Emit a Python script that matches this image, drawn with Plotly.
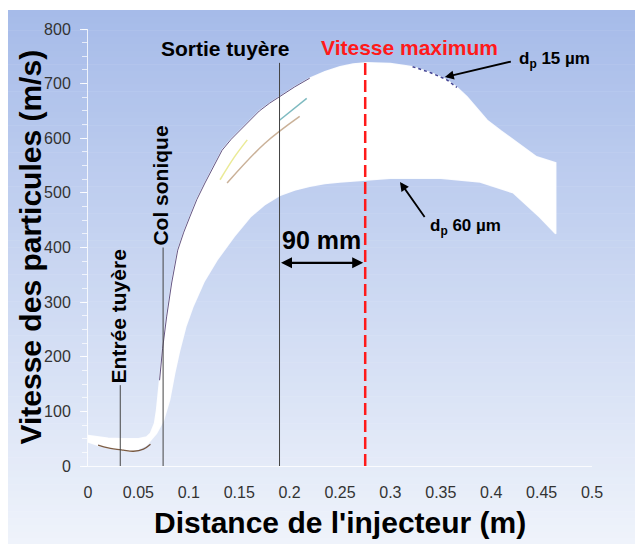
import plotly.graph_objects as go

# Upper envelope (dp 15 µm) and lower envelope (dp 60 µm)
upper_x = [0.0, 0.01, 0.02, 0.035, 0.05, 0.058, 0.062, 0.066, 0.068, 0.071, 0.074, 0.078, 0.083, 0.089,
           0.095, 0.101, 0.108, 0.116, 0.125, 0.133, 0.142, 0.151, 0.16, 0.17, 0.18, 0.19, 0.205,
           0.22, 0.235, 0.25, 0.263, 0.277, 0.3, 0.322, 0.34, 0.356, 0.366, 0.376, 0.386, 0.396,
           0.41, 0.422, 0.445, 0.464]
upper_y = [56, 53, 51, 50, 50, 53, 60, 78, 102, 157, 215, 273, 335, 395,
           428, 456, 488, 518, 550, 578, 598, 615, 633, 650, 664, 676, 694,
           710, 722, 731, 736, 738, 737, 731, 720, 707, 693, 676, 655, 633,
           613, 597, 566, 555]
lower_x = [0.0, 0.01, 0.02, 0.035, 0.045, 0.058, 0.068, 0.075, 0.081, 0.086, 0.091, 0.097, 0.104,
           0.115, 0.128, 0.145, 0.161, 0.175, 0.19, 0.205, 0.22, 0.235, 0.25, 0.275, 0.3, 0.35,
           0.389, 0.422, 0.448, 0.464]
lower_y = [44, 38, 33, 29, 27, 38, 60, 84, 121, 170, 212, 255, 291,
           337, 377, 420, 456, 478, 495, 505, 512, 517, 520, 524, 527, 527,
           520, 500, 456, 425]

# faint streaks inside the band
streak_teal_x = [0.19, 0.217]
streak_teal_y = [633, 673]
streak_brown_x = [0.138, 0.175, 0.21]
streak_brown_y = [518, 590, 640]
streak_yellow_x = [0.131, 0.145, 0.158]
streak_yellow_y = [524, 565, 597]

# bottom dark trace near the injector
bottom_x = [0.01, 0.02, 0.035, 0.045, 0.055, 0.062]
bottom_y = [38, 33, 29, 27, 31, 40]

x_tick_vals = [0, 0.05, 0.1, 0.15, 0.2, 0.25, 0.3, 0.35, 0.4, 0.45, 0.5]
x_tick_text = ["0", "0.05", "0.1", "0.15", "0.2", "0.25", "0.3", "0.35", "0.4", "0.45", "0.5"]
y_tick_vals = [0, 100, 200, 300, 400, 500, 600, 700, 800]

# reference positions
x_entree = 0.032
x_col = 0.0745
x_sortie = 0.19
x_vmax = 0.275
entree_top = 148
col_top = 400
sortie_top = 738
vmax_top = 738
arrow_y = 372

fig = go.Figure()

# background gradient via stripes (paper coordinates); page is offset 8px by body margin
W, H = 643, 544
L, R, T, B = 80, 59, 21, 86
pw, ph = W - L - R, H - T - B
top_c = (166, 187, 233)
bot_c = (240, 244, 251)
n = 80
fy0, fy1 = 2, 544
shapes = []
for i in range(n):
    a = fy0 + (fy1 - fy0) * i / n
    b = fy0 + (fy1 - fy0) * (i + 1) / n
    t = (i + 0.5) / n
    c = tuple(int(round(top_c[k] + (bot_c[k] - top_c[k]) * t)) for k in range(3))
    shapes.append(dict(type="rect", xref="paper", yref="paper", layer="below",
                       x0=(0 - L) / pw, x1=(W - L) / pw,
                       y0=(H - B - b - 0.5) / ph, y1=(H - B - a) / ph,
                       fillcolor="rgb(%d,%d,%d)" % c, line=dict(width=0)))

# white band
poly_x = upper_x + lower_x[::-1]
poly_y = upper_y + lower_y[::-1]
fig.add_trace(go.Scatter(x=poly_x, y=poly_y, fill="toself", fillcolor="white",
                         mode="lines", line=dict(color="rgba(255,255,255,0.9)", width=1.5),
                         hoverinfo="skip", showlegend=False))

# dark edge along upper envelope
fig.add_trace(go.Scatter(x=upper_x[9:28], y=upper_y[9:28], mode="lines",
                         line=dict(color="rgba(50,30,90,0.75)", width=1),
                         hoverinfo="skip", showlegend=False))
fig.add_trace(go.Scatter(x=upper_x[33:37], y=upper_y[33:37], mode="lines",
                         line=dict(color="rgba(20,20,120,0.8)", width=1.5, dash="dot"),
                         hoverinfo="skip", showlegend=False))
fig.add_trace(go.Scatter(x=bottom_x, y=bottom_y, mode="lines",
                         line=dict(color="rgba(90,50,20,0.8)", width=1.3, shape="spline"),
                         hoverinfo="skip", showlegend=False))
for sx, sy, col in [(streak_teal_x, streak_teal_y, "rgba(40,140,150,0.6)"),
                    (streak_brown_x, streak_brown_y, "rgba(150,100,50,0.5)"),
                    (streak_yellow_x, streak_yellow_y, "rgba(220,220,80,0.6)")]:
    fig.add_trace(go.Scatter(x=sx, y=sy, mode="lines", line=dict(color=col, width=1.5, shape="spline"),
                             hoverinfo="skip", showlegend=False))

# vertical reference lines
for xv, top in [(x_entree, entree_top), (x_col, col_top), (x_sortie, sortie_top)]:
    fig.add_trace(go.Scatter(x=[xv, xv], y=[0, top], mode="lines",
                             line=dict(color="#444444", width=1), hoverinfo="skip", showlegend=False))
fig.add_trace(go.Scatter(x=[x_vmax, x_vmax], y=[0, vmax_top], mode="lines",
                         line=dict(color="#ff1a1a", width=2.5, dash="12px,5px"),
                         hoverinfo="skip", showlegend=False))

ann = []
ann.append(dict(x=x_entree - 0.002, y=entree_top, yanchor="bottom", xanchor="center", textangle=-90,
                text="<b>Entrée tuyère</b>", showarrow=False, font=dict(size=21, color="black")))
ann.append(dict(x=x_col - 0.003, y=col_top, yanchor="bottom", xanchor="center", textangle=-90,
                text="<b>Col sonique</b>", showarrow=False, font=dict(size=21, color="black")))
ann.append(dict(x=0.136, y=765, text="<b>Sortie tuyère</b>", showarrow=False,
                font=dict(size=21, color="black")))
ann.append(dict(x=0.319, y=767, text="<b>Vitesse maximum</b>", showarrow=False,
                font=dict(size=21, color="#ff1a1a")))
ann.append(dict(x=0.232, y=414, text="<b>90 mm</b>", showarrow=False,
                font=dict(size=25, color="black")))
ann.append(dict(x=x_vmax - 0.002, y=arrow_y, ax=x_sortie, ay=arrow_y, axref="x", ayref="y",
                text="", showarrow=True, arrowhead=2, arrowside="end+start", arrowsize=1,
                arrowwidth=2.2, arrowcolor="black"))
ann.append(dict(x=0.354, y=712, ax=0.421, ay=741, axref="x", ayref="y", text="",
                showarrow=True, arrowhead=2, arrowsize=1, arrowwidth=1.8, arrowcolor="black"))
ann.append(dict(x=0.4256, y=743, xanchor="left", text="<b>d<sub>p</sub> 15 µm</b>", showarrow=False,
                font=dict(size=17, color="black")))
ann.append(dict(x=0.3095, y=520, ax=0.335, ay=453, axref="x", ayref="y", text="",
                showarrow=True, arrowhead=2, arrowsize=1, arrowwidth=1.8, arrowcolor="black"))
ann.append(dict(x=0.337, y=437, xanchor="left", text="<b>d<sub>p</sub> 60 µm</b>", showarrow=False,
                font=dict(size=17, color="black")))
# axis titles
ann.append(dict(xref="paper", yref="paper", x=(22 - L) / pw, y=0.5, xanchor="center", yanchor="middle",
                textangle=-90, text="<b>Vitesse des particules (m/s)</b>", showarrow=False,
                font=dict(size=30, color="black")))
ann.append(dict(xref="paper", yref="paper", x=(332 - L) / pw, y=(H - B - 514) / ph,
                xanchor="center", yanchor="middle",
                text="<b>Distance de l'injecteur (m)</b>", showarrow=False,
                font=dict(size=30, color="black")))

fig.update_layout(
    width=W, height=H,
    margin=dict(l=L, r=R, t=T, b=B),
    paper_bgcolor="white", plot_bgcolor="rgba(0,0,0,0)",
    font=dict(family="Liberation Sans, Arial, sans-serif"),
    shapes=shapes, annotations=ann, showlegend=False,
)
fig.update_xaxes(range=[0, 0.5], tickvals=x_tick_vals, ticktext=x_tick_text,
                 showgrid=False, zeroline=False, showline=True, linecolor="rgba(255,255,255,0.8)",
                 ticks="", ticklabelstandoff=12, tickfont=dict(size=16, color="#333333"))
fig.update_yaxes(range=[0, 800], tickvals=y_tick_vals, showgrid=False, zeroline=False,
                 showline=True, linecolor="rgba(255,255,255,0.8)", ticks="outside", ticklen=7,
                 tickcolor="rgba(255,255,255,0.85)", ticklabelstandoff=6,
                 minor=dict(ticks="outside", ticklen=5, dtick=25, tickcolor="rgba(255,255,255,0.7)"),
                 tickfont=dict(size=16, color="#333333"))

fig.write_html("out.html")
